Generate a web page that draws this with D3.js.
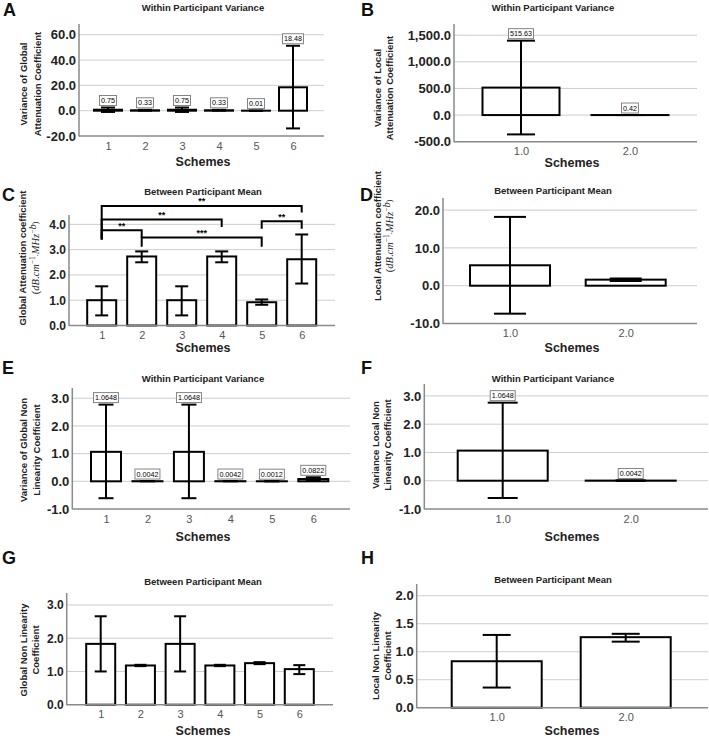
<!DOCTYPE html>
<html><head><meta charset="utf-8">
<script src="https://cdn.jsdelivr.net/npm/d3@7"></script>
<style>body{margin:0;background:#fff}</style>
</head><body><svg id="c" width="709" height="738"></svg>
<script>
// ---------------- DATA ----------------
const schemes6 = ["1","2","3","4","5","6"];
const schemes2 = ["1.0","2.0"];

const aMean   = [0.75, 0.33, 0.75, 0.33, 0.01, 18.48];
const aLow    = [-1.0, 0.0, -1.0, 0.0, 0.0, -14.0];
const aHigh   = [2.5, 0.7, 2.5, 0.7, 0.02, 51.3];
const aLabels = ["0.75","0.33","0.75","0.33","0.01","18.48"];
const aTicks  = [-20, 0, 20, 40, 60];

const bMean   = [515.63, 0.42];
const bLow    = [-363, 0];
const bHigh   = [1397, 1];
const bLabels = ["515.63","0.42"];
const bTicks  = [-500, 0, 500, 1000, 1500];

const cMean   = [1.0, 2.73, 1.0, 2.73, 0.92, 2.62];
const cLow    = [0.4, 2.5, 0.4, 2.5, 0.82, 1.66];
const cHigh   = [1.55, 2.93, 1.55, 2.93, 1.03, 3.6];
const cTicks  = [0, 1, 2, 3, 4];
const cSigFrom  = ["1","1","1","2","5"];
const cSigTo    = ["6","4","2","5","6"];
const cSigLevel = [4.73, 4.19, 3.77, 3.48, 4.12];
const cSigDropL = [3.4, 3.4, 3.4, 3.11, 3.83];
const cSigDropR = [4.47, 3.9, 3.48, 3.11, 3.83];
const cSigText  = ["**","**","**","***","**"];

const dMean   = [5.4, 1.6];
const dLow    = [-7.4, 1.25];
const dHigh   = [18.2, 1.9];
const dTicks  = [-10, 0, 10, 20];

const eMean   = [1.0648, 0.0042, 1.0648, 0.0042, 0.0012, 0.0822];
const eLow    = [-0.61, 0.0, -0.61, 0.0, 0.0, 0.02];
const eHigh   = [2.77, 0.01, 2.77, 0.01, 0.005, 0.145];
const eLabels = ["1.0648","0.0042","1.0648","0.0042","0.0012","0.0822"];
const eTicks  = [-1, 0, 1, 2, 3];

const fMean   = [1.0648, 0.0042];
const fLow    = [-0.61, 0.0];
const fHigh   = [2.76, 0.01];
const fLabels = ["1.0648","0.0042"];
const fTicks  = [-1, 0, 1, 2, 3];

const gMean   = [1.83, 1.18, 1.83, 1.18, 1.25, 1.07];
const gLow    = [1.0, 1.16, 1.0, 1.16, 1.22, 0.92];
const gHigh   = [2.66, 1.20, 2.66, 1.20, 1.28, 1.19];
const gTicks  = [0, 1, 2, 3];

const hMean   = [0.83, 1.26];
const hLow    = [0.36, 1.18];
const hHigh   = [1.30, 1.32];
const hTicks  = [0, 0.5, 1.0, 1.5, 2.0];

// ---------------- RENDER ----------------
const SANS = "'Liberation Sans', Arial, sans-serif";
const SERIF = "'Liberation Serif', 'Times New Roman', serif";
const loc = d3.formatLocale({decimal:".", thousands:",", grouping:[3], currency:["",""], minus:"-"});
const svg = d3.select("#c");

function mathLine(t) {
  const add = (s, it, sup) => {
    const ts = t.append("tspan").text(s);
    if (it) ts.attr("font-style","italic");
    if (sup) ts.attr("font-size","0.72em").attr("dy", sup);
    return ts;
  };
  add("(", false); add("dB", true); add(".", false); add("cm", true);
  add("−1", false, "-0.4em"); add(".", false, "0.4em"); add("MHz", true);
  add("−", false, "-0.4em"); add("b", true); add(")", false, "0.4em");
}

function panel(cfg) {
  const g = svg.append("g");
  const y = d3.scaleLinear().domain(cfg.domain).range([cfg.bottom, cfg.top]);
  const x = d3.scalePoint().domain(cfg.cats).range([cfg.c0, cfg.c1]);
  const data = cfg.cats.map((c, i) => ({c, v: cfg.mean[i], lo: cfg.low[i], hi: cfg.high[i], lab: cfg.labels ? cfg.labels[i] : null}));

  // gridlines
  g.append("g").selectAll("line").data(cfg.ticks.filter(t => t !== cfg.domain[0])).join("line")
    .attr("x1", cfg.left).attr("x2", cfg.right)
    .attr("y1", d => y(d)).attr("y2", d => y(d))
    .attr("stroke", "#cdcdcd").attr("stroke-width", 1);

  // bars
  g.append("g").selectAll("rect").data(data).join("rect")
    .attr("x", d => x(d.c) - cfg.bw / 2).attr("width", cfg.bw)
    .attr("y", d => y(Math.max(0, d.v)))
    .attr("height", d => Math.abs(y(d.v) - y(0)))
    .attr("fill", "#fff").attr("stroke", "#000").attr("stroke-width", 2);

  // error bars
  const eb = g.append("g").attr("stroke", "#000").attr("stroke-width", 2);
  data.forEach(d => {
    eb.append("line").attr("x1", x(d.c)).attr("x2", x(d.c)).attr("y1", y(d.lo)).attr("y2", y(d.hi));
    [d.lo, d.hi].forEach(vv => eb.append("line")
      .attr("x1", x(d.c) - cfg.cap / 2).attr("x2", x(d.c) + cfg.cap / 2)
      .attr("y1", y(vv)).attr("y2", y(vv)));
  });

  // axes lines
  g.append("line").attr("x1", cfg.left).attr("x2", cfg.left).attr("y1", cfg.top).attr("y2", cfg.bottom + 0.5)
    .attr("stroke", "#8a8a8a").attr("stroke-width", 1.5);
  g.append("line").attr("x1", cfg.left).attr("x2", cfg.right).attr("y1", cfg.bottom).attr("y2", cfg.bottom)
    .attr("stroke", "#8a8a8a").attr("stroke-width", 1.5);

  // y axis ticks
  const ya = d3.axisLeft(y).tickValues(cfg.ticks).tickFormat(loc.format(cfg.fmt)).tickSize(0).tickPadding(3);
  const yg = g.append("g").attr("transform", `translate(${cfg.left},0)`).call(ya);
  yg.select(".domain").remove();
  yg.selectAll("text").attr("font-size", cfg.yfs || 13).attr("font-weight", "bold")
    .attr("fill", "#222").attr("font-family", SANS);

  // x axis ticks
  const xa = d3.axisBottom(x).tickSize(0).tickPadding(6);
  const xg = g.append("g").attr("transform", `translate(0,${cfg.bottom})`).call(xa);
  xg.select(".domain").remove();
  xg.selectAll("text").attr("font-size", 11).attr("fill", "#555").attr("font-family", SANS);

  // value labels
  if (cfg.labels) {
    data.forEach(d => {
      const top = y(Math.max(d.v, d.hi));
      const lg = g.append("g");
      const t = lg.append("text").attr("x", x(d.c)).attr("y", top - 4.5)
        .attr("text-anchor", "middle").attr("font-size", 7.2).attr("font-family", SANS).attr("fill", "#000").text(d.lab);
      const bb = t.node().getBBox();
      lg.insert("rect", "text").attr("x", bb.x - 1.5).attr("y", bb.y - 0.5)
        .attr("width", bb.width + 3).attr("height", bb.height + 1)
        .attr("fill", "#fff").attr("stroke", "#777").attr("stroke-width", 0.9);
    });
  }

  // significance brackets
  if (cfg.sig) {
    const sg = g.append("g");
    cfg.sig.from.forEach((f, i) => {
      const x1 = x(f), x2 = x(cfg.sig.to[i]);
      const yl = y(cfg.sig.level[i]);
      sg.append("path")
        .attr("d", `M${x1},${y(cfg.sig.dropL[i])}V${yl}H${x2}V${y(cfg.sig.dropR[i])}`)
        .attr("fill", "none").attr("stroke", "#000").attr("stroke-width", 2);
      sg.append("text").attr("x", (x1 + x2) / 2).attr("y", yl - 1.5).attr("text-anchor", "middle")
        .attr("font-size", 9).attr("font-weight", "bold").attr("font-family", SANS).text(cfg.sig.text[i]);
    });
  }

  // titles
  g.append("text").attr("x", cfg.tx).attr("y", cfg.ty).attr("text-anchor", "middle")
    .attr("dominant-baseline", "central").attr("font-size", 9.5).attr("font-weight", "bold")
    .attr("font-family", SANS).attr("fill", "#222").text(cfg.title);
  g.append("text").attr("x", cfg.lx).attr("y", cfg.ly).attr("font-size", 18).attr("font-weight", "bold")
    .attr("font-family", SANS).attr("fill", "#111").text(cfg.letter);
  g.append("text").attr("x", cfg.sx).attr("y", cfg.sy).attr("text-anchor", "middle")
    .attr("dominant-baseline", "central").attr("font-size", 12.5).attr("font-weight", "bold")
    .attr("font-family", SANS).attr("fill", "#222").text("Schemes");
  cfg.yt.forEach((line, i) => {
    const t = g.append("text").attr("transform", `translate(${cfg.ytx[i]},${cfg.yty}) rotate(-90)`)
      .attr("text-anchor", "middle").attr("dominant-baseline", "central")
      .attr("font-family", line === "MATH" ? SERIF : SANS)
      .attr("font-size", line === "MATH" ? 10.5 : 9.5)
      .attr("font-weight", line === "MATH" ? "normal" : "bold").attr("fill", "#222");
    if (line === "MATH") mathLine(t); else t.text(line);
  });
}

panel({letter:"A", lx:3, ly:16, title:"Within Participant Variance", tx:203, ty:7,
  left:79, right:324, top:24, bottom:136, domain:[-20, 68.5], ticks:aTicks, fmt:".1f",
  cats:schemes6, c0:108, c1:293, bw:28, cap:14,
  mean:aMean, low:aLow, high:aHigh, labels:aLabels,
  sx:203, sy:162, yt:["Variance of Global","Attenuation Coefficient"], ytx:[23,37], yty:84});

panel({letter:"B", lx:361, ly:16, title:"Within Participant Variance", tx:553, ty:7,
  left:454, right:697, top:24, bottom:141.7, domain:[-500, 1710], ticks:bTicks, fmt:",.1f",
  cats:schemes2, c0:521, c1:630, bw:77, cap:28,
  mean:bMean, low:bLow, high:bHigh, labels:bLabels,
  sx:572, sy:163, yt:["Variance of Local","Attenuation Coefficient"], ytx:[377,389], yty:88});

panel({letter:"C", lx:2, ly:201, title:"Between Participant Mean", tx:203, ty:191,
  left:69, right:335, top:215, bottom:325.5, domain:[0, 4.37], ticks:cTicks, fmt:".1f", yfs:12,
  cats:schemes6, c0:101.7, c1:301.7, bw:29, cap:13,
  mean:cMean, low:cLow, high:cHigh,
  sig:{from:cSigFrom, to:cSigTo, level:cSigLevel, dropL:cSigDropL, dropR:cSigDropR, text:cSigText},
  sx:203, sy:347.5, yt:["Global Attenuation coefficient","MATH"], ytx:[22,35], yty:258});

panel({letter:"D", lx:360, ly:201, title:"Between Participant Mean", tx:553, ty:190,
  left:443, right:697, top:198, bottom:323.5, domain:[-10, 23.2], ticks:dTicks, fmt:".1f",
  cats:schemes2, c0:510, c1:625.7, bw:80, cap:32,
  mean:dMean, low:dLow, high:dHigh,
  sx:572, sy:348, yt:["Local Attenuation coefficient","MATH"], ytx:[377,389], yty:236});

panel({letter:"E", lx:2, ly:374, title:"Within Participant Variance", tx:203, ty:378,
  left:72.3, right:350, top:388, bottom:509, domain:[-1, 3.37], ticks:eTicks, fmt:".1f",
  cats:schemes6, c0:106, c1:313.3, bw:30, cap:15,
  mean:eMean, low:eLow, high:eHigh, labels:eLabels,
  sx:203, sy:536.5, yt:["Variance of Global Non","Linearity Coefficient"], ytx:[23.5,36], yty:450});

panel({letter:"F", lx:361, ly:374, title:"Within Participant Variance", tx:553, ty:378,
  left:424.3, right:708, top:384, bottom:509, domain:[-1, 3.42], ticks:fTicks, fmt:".1f",
  cats:schemes2, c0:502.7, c1:630.7, bw:90, cap:30,
  mean:fMean, low:fLow, high:fHigh, labels:fLabels,
  sx:572, sy:536.5, yt:["Variance Local Non","Linearity Coefficient"], ytx:[375,387.5], yty:445});

panel({letter:"G", lx:2, ly:564, title:"Between Participant Mean", tx:203, ty:581,
  left:66.7, right:333, top:593, bottom:704.7, domain:[0, 3.36], ticks:gTicks, fmt:".1f", yfs:12,
  cats:schemes6, c0:100.7, c1:299.3, bw:29, cap:12,
  mean:gMean, low:gLow, high:gHigh,
  sx:203, sy:730.5, yt:["Global Non Linearity","Coefficient"], ytx:[23.5,35.5], yty:650});

panel({letter:"H", lx:361, ly:564, title:"Between Participant Mean", tx:553, ty:579.5,
  left:416.7, right:708, top:584, bottom:707.7, domain:[0, 2.21], ticks:hTicks, fmt:".1f",
  cats:schemes2, c0:496.7, c1:625.7, bw:90, cap:28,
  mean:hMean, low:hLow, high:hHigh,
  sx:572, sy:730.5, yt:["Local Non Linearity","Coefficient"], ytx:[375,387.5], yty:656});
</script></body></html>
